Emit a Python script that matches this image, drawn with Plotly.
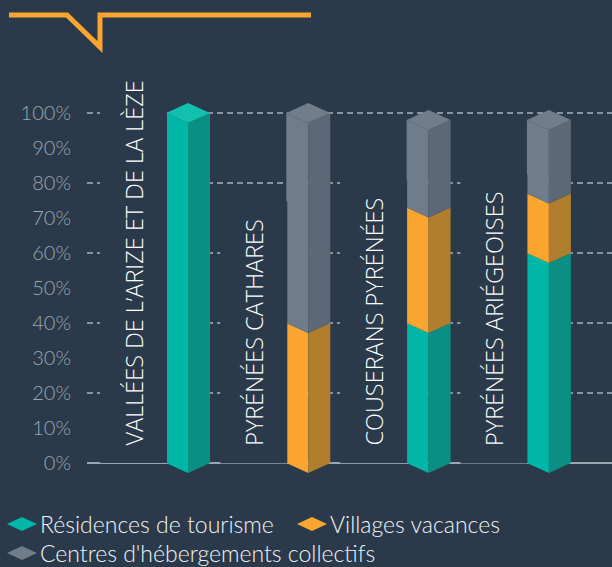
import plotly.graph_objects as go

# ---------------- data ----------------
categories = ["VALLÉES DE L’ARIZE ET DE LA LÈZE", "PYRÉNÉES CATHARES",
              "COUSERANS PYRÉNÉES", "PYRÉNÉES ARIÉGEOISES"]
series_names = ["Résidences de tourisme", "Villages vacances",
                "Centres d'hébergements collectifs"]
residences = [100, 0, 40, 60]
villages = [0, 40, 33, 17]
centres = [0, 60, 25, 21]
y_tick_vals = [0, 10, 20, 30, 40, 50, 60, 70, 80, 90, 100]
y_tick_text = ["0%", "10%", "20%", "30%", "40%", "50%", "60%", "70%", "80%", "90%", "100%"]
grid_vals = [20, 40, 60, 80, 100]

# ---------------- style ----------------
W, H = 612, 567
ML, MR, MT, MB = 87, 0, 60, 87
BG = "#2a3a4a"
front_cols = ["#00b6a6", "#f9a530", "#6e7c8c"]
side_cols = ["#0a8f84", "#b07e2c", "#5c6878"]
top_cols = ["#13bfae", "#fbb045", "#6f7d8d"]
FONT = "Open Sans"
LEG_FONT = "Lato"
TICK_FONT = "Lato"

PX_PER_CAT = 120.3
FIRST_CENTER_PX = 188
x_range = [(ML - FIRST_CENTER_PX) / PX_PER_CAT, (W - MR - FIRST_CENTER_PX) / PX_PER_CAT]
PX_PER_PCT = 3.5
ZERO_PX = 463
y_range = [-(H - MB - ZERO_PX) / PX_PER_PCT, (ZERO_PX - MT) / PX_PER_PCT]

half_w = 22 / PX_PER_CAT
depth = 10 / PX_PER_PCT

fig = go.Figure()

values = [residences, villages, centres]
n = len(categories)
tops_by_cat = []
for i in range(n):
    tops_by_cat.append(max(k for k in range(3) if values[k][i] > 0))

for s in range(3):
    fx, fy, sx, sy, tx, ty = [], [], [], [], [], []
    for i in range(n):
        v = values[s][i]
        if v <= 0:
            continue
        b = sum(values[k][i] for k in range(s))
        t = b + v
        xl, xc, xr = i - half_w, i, i + half_w
        fx += [xl, xc, xc, xl, xl, None]
        fy += [t, t - depth, b - depth, b, t, None]
        sx += [xc, xr, xr, xc, xc, None]
        sy += [t - depth, t, b, b - depth, t - depth, None]
        if tops_by_cat[i] == s:
            tx += [xl, xc, xr, xc, xl, None]
            ty += [t, t + depth, t, t - depth, t, None]
    for xs, ys, col in ((fx, fy, front_cols[s]), (sx, sy, side_cols[s]), (tx, ty, top_cols[s])):
        if xs:
            fig.add_trace(go.Scatter(x=xs, y=ys, mode="lines", fill="toself",
                                     fillcolor=col, line=dict(width=0, color=col),
                                     name=series_names[s], showlegend=False,
                                     hoverinfo="skip"))

# category labels (vertical)
label_offset = -55 / PX_PER_CAT
for i, c in enumerate(categories):
    fig.add_annotation(x=i + label_offset, y=(ZERO_PX - 444) / PX_PER_PCT - 20 / PX_PER_PCT,
                       xref="x", yref="y", text=c, textangle=-90, showarrow=False,
                       xanchor="center", yanchor="bottom",
                       font=dict(family=FONT, size=23.5, color="#ffffff", weight=300),
                       bgcolor=BG, borderpad=17)

# helpers for pixel -> paper
pw, ph = W - ML - MR, H - MT - MB
def px(xp):
    return (xp - ML) / pw
def py(yp):
    return (H - MB - yp) / ph

shapes = []
# top decoration
pts = [(9, 15), (67, 15), (100, 47), (100, 15), (311, 15)]
path = "M " + " L ".join(f"{px(a):.5f},{py(b):.5f}" for a, b in pts)
shapes.append(dict(type="path", xref="paper", yref="paper", path=path,
                   line=dict(color="#f9a530", width=5), layer="above"))

# legend
legend_items = [(0, 22, 524, 39), (1, 312, 524, 329), (2, 22, 553, 39)]
for s, cx, cy, tx0 in legend_items:
    dpath = (f"M {px(cx-15):.5f},{py(cy):.5f} L {px(cx):.5f},{py(cy-7):.5f} "
             f"L {px(cx+15):.5f},{py(cy):.5f} L {px(cx):.5f},{py(cy+7):.5f} Z")
    shapes.append(dict(type="path", xref="paper", yref="paper", path=dpath,
                       fillcolor=front_cols[s], line=dict(width=0)))
    fig.add_annotation(x=px(tx0), y=py(cy), xref="paper", yref="paper",
                       text=series_names[s], showarrow=False, xanchor="left",
                       yanchor="middle", borderpad=0,
                       font=dict(family=LEG_FONT, size=23, color="#f2f4f6", weight=300))

fig.update_layout(
    width=W, height=H, margin=dict(l=ML, r=MR, t=MT, b=MB, pad=0),
    paper_bgcolor=BG, plot_bgcolor=BG, showlegend=False, shapes=shapes,
    xaxis=dict(range=x_range, showgrid=False, zeroline=False, showticklabels=False,
               showline=False, fixedrange=True),
    yaxis=dict(range=y_range, tickvals=y_tick_vals, ticktext=y_tick_text,
               showgrid=False, zeroline=True, zerolinecolor="#9aa6b2", zerolinewidth=2,
               ticks="", ticklabelstandoff=15,
               tickfont=dict(family=TICK_FONT, size=20, color="#9aa6b2", weight=300),
               minor=dict(tickvals=grid_vals, showgrid=True, gridcolor="#8793a0",
                          gridwidth=1.5, griddash="6px,4px", ticks=""),
               fixedrange=True),
)

fig.write_html("out.html", config={"displayModeBar": False},
               post_script="document.body.style.margin='0';document.body.style.overflow='hidden';")
